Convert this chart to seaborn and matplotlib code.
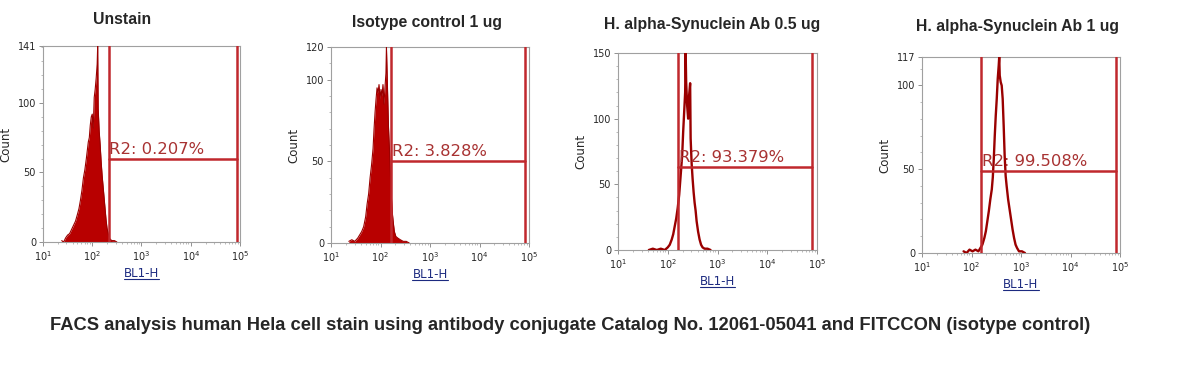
import numpy as np
import pandas as pd
import seaborn as sns
import matplotlib
matplotlib.use("Agg")
import matplotlib.pyplot as plt
from matplotlib.ticker import FixedLocator, MultipleLocator, LogLocator, NullFormatter
from matplotlib.lines import Line2D

# ---------------- data ----------------
titles = ["Unstain", "Isotype control 1 ug", "H. alpha-Synuclein Ab 0.5 ug", "H. alpha-Synuclein Ab 1 ug"]
caption = "FACS analysis human Hela cell stain using antibody conjugate Catalog No. 12061-05041 and FITCCON (isotype control)"

pos1 = [1.38,1.42,1.46,1.50,1.54,1.58,1.62,1.66,1.70,1.73,1.76,1.79,1.82,1.85,1.88,1.90,1.92,1.94,1.96,1.98,2.00,2.02,2.04,2.06,2.08,2.10,2.11,2.12,2.14,2.16,2.18,2.20,2.22,2.24,2.26,2.28,2.30,2.33,2.36,2.40,2.45,2.50]
cnt1 = [1,0,3,5,6,9,12,15,20,24,30,37,46,52,60,66,72,75,84,90,92,82,104,110,118,128,141,96,80,70,58,48,40,32,24,16,10,5,2,1,1,0]

pos2 = [1.36,1.42,1.48,1.54,1.58,1.62,1.66,1.70,1.73,1.76,1.79,1.82,1.85,1.87,1.89,1.91,1.93,1.95,1.97,1.99,2.01,2.03,2.05,2.07,2.09,2.11,2.12,2.14,2.16,2.18,2.20,2.22,2.24,2.26,2.28,2.31,2.35,2.40,2.46,2.52,2.58]
cnt2 = [1,2,1,3,5,7,10,16,24,30,40,48,58,70,80,88,95,92,97,88,94,90,97,85,95,104,120,96,72,58,42,28,18,12,7,4,3,2,1,1,0]

pos3 = [1.62,1.70,1.78,1.86,1.94,2.00,2.04,2.08,2.11,2.14,2.17,2.20,2.23,2.25,2.27,2.29,2.31,2.33,2.35,2.36,2.37,2.39,2.41,2.43,2.45,2.46,2.48,2.50,2.52,2.54,2.56,2.58,2.61,2.64,2.67,2.70,2.74,2.80,2.86]
cnt3 = [0,1,0,1,0,2,4,8,12,18,24,32,42,52,62,72,90,105,120,150,128,110,100,118,127,85,66,54,44,36,30,22,14,8,4,2,1,1,0]

pos4 = [1.84,1.90,1.96,2.02,2.08,2.14,2.18,2.22,2.26,2.29,2.32,2.35,2.38,2.41,2.43,2.45,2.47,2.49,2.51,2.53,2.55,2.56,2.57,2.59,2.61,2.63,2.65,2.67,2.69,2.71,2.74,2.77,2.80,2.83,2.86,2.89,2.92,2.96,3.02,3.08]
cnt4 = [1,0,2,1,2,1,3,5,9,13,19,25,32,38,45,56,70,82,92,104,112,117,106,102,100,92,76,58,46,40,32,26,20,14,9,5,3,1,1,0]

ymax = [141, 120, 150, 117]
gate_left = [2.33, 2.21, 2.20, 2.20]     # log10 units
gate_right = [4.93, 4.92, 4.90, 4.92]
gate_level = [59.5, 50.2, 63, 49]
gate_labels = ["R2: 0.207%", "R2: 3.828%", "R2: 93.379%", "R2: 99.508%"]
xlabel = "BL1-H"
ylabel = "Count"

positions = [pos1, pos2, pos3, pos4]
counts = [cnt1, cnt2, cnt3, cnt4]

# ---------------- style ----------------
sns.set_theme(style="white")
plt.rcParams['font.family'] = ['DejaVu Sans']

W, H = 1204, 366
fig = plt.figure(figsize=(W/100, H/100), dpi=100)

boxes = [(43, 240, 46, 242), (331, 529, 47, 243), (618, 817, 53, 250), (922, 1120, 57, 253)]
title_pos = [(122, 20), (427, 23), (712, 25), (1017, 26)]
filled = [True, True, False, False]

HIST_FILL = "#b80000"
HIST_LINE = "#9a0000"
GATE = "#c0282d"
TXT = "#a83232"

xlabels = []
for i in range(4):
    l, r, t, b = boxes[i]
    ax = fig.add_axes([l/W, 1 - b/H, (r-l)/W, (b-t)/H])
    df = pd.DataFrame({"x": np.power(10.0, positions[i]), "count": counts[i]})
    if filled[i]:
        ax.fill_between(df["x"], df["count"], color=HIST_FILL, lw=0, zorder=2)
        sns.lineplot(data=df, x="x", y="count", ax=ax, color=HIST_LINE, lw=0.8, zorder=3)
    else:
        sns.lineplot(data=df, x="x", y="count", ax=ax, color=HIST_LINE, lw=1.7, zorder=3)
    ax.set_xscale("log")
    ax.set_xlim(10, 1e5)
    ax.set_ylim(0, ymax[i])

    # gates
    gl, gr = 10**gate_left[i], 10**gate_right[i]
    ax.axvline(gl, color=GATE, lw=1.8, zorder=4)
    ax.axvline(gr, color=GATE, lw=1.8, zorder=4)
    ax.plot([gl, gr], [gate_level[i], gate_level[i]], color=GATE, lw=1.8, zorder=4)
    ax.text(gl*1.04, gate_level[i] + ymax[i]*0.012, gate_labels[i], color=TXT,
            fontsize=11.8, ha="left", va="bottom", zorder=5)

    # axes styling
    for s in ax.spines.values():
        s.set_color("#a0a0a0")
        s.set_linewidth(0.8)
    ax.yaxis.set_major_locator(FixedLocator([0, 50, 100, ymax[i]]))
    ax.yaxis.set_minor_locator(MultipleLocator(10))
    ax.xaxis.set_major_locator(LogLocator(base=10, numticks=10))
    ax.xaxis.set_minor_locator(LogLocator(base=10, subs=np.arange(2, 10), numticks=20))
    ax.xaxis.set_minor_formatter(NullFormatter())
    ax.tick_params(axis="both", which="major", direction="out", length=3, width=0.6,
                   color="#808080", labelsize=7, pad=2, left=True, bottom=True)
    ax.tick_params(axis="both", which="minor", direction="out", length=1.5, width=0.5,
                   color="#a0a0a0", left=True, bottom=True)
    ax.set_ylabel(ylabel, fontsize=8.5, labelpad=4)
    ax.set_xlabel(xlabel, fontsize=8.5, color="#1c2a80", labelpad=3)
    xlabels.append(ax.xaxis.label)

    fig.text(title_pos[i][0]/W, 1 - title_pos[i][1]/H, titles[i], ha="center", va="center",
             fontsize=11.3, fontweight="bold", family="Liberation Sans")

fig.text(570/W, 1 - 326/H, caption, ha="center", va="center", fontsize=13.2,
         fontweight="bold", family="Liberation Sans")

# underline for x labels
fig.canvas.draw()
renderer = fig.canvas.get_renderer()
for lab in xlabels:
    bb = lab.get_window_extent(renderer)
    y = (bb.y0 + 0.5) / H
    fig.add_artist(Line2D([bb.x0/W, bb.x1/W], [y, y], color="#1c2a80", lw=0.8,
                          transform=fig.transFigure))

fig.savefig("out.png", dpi=100, facecolor="white")
